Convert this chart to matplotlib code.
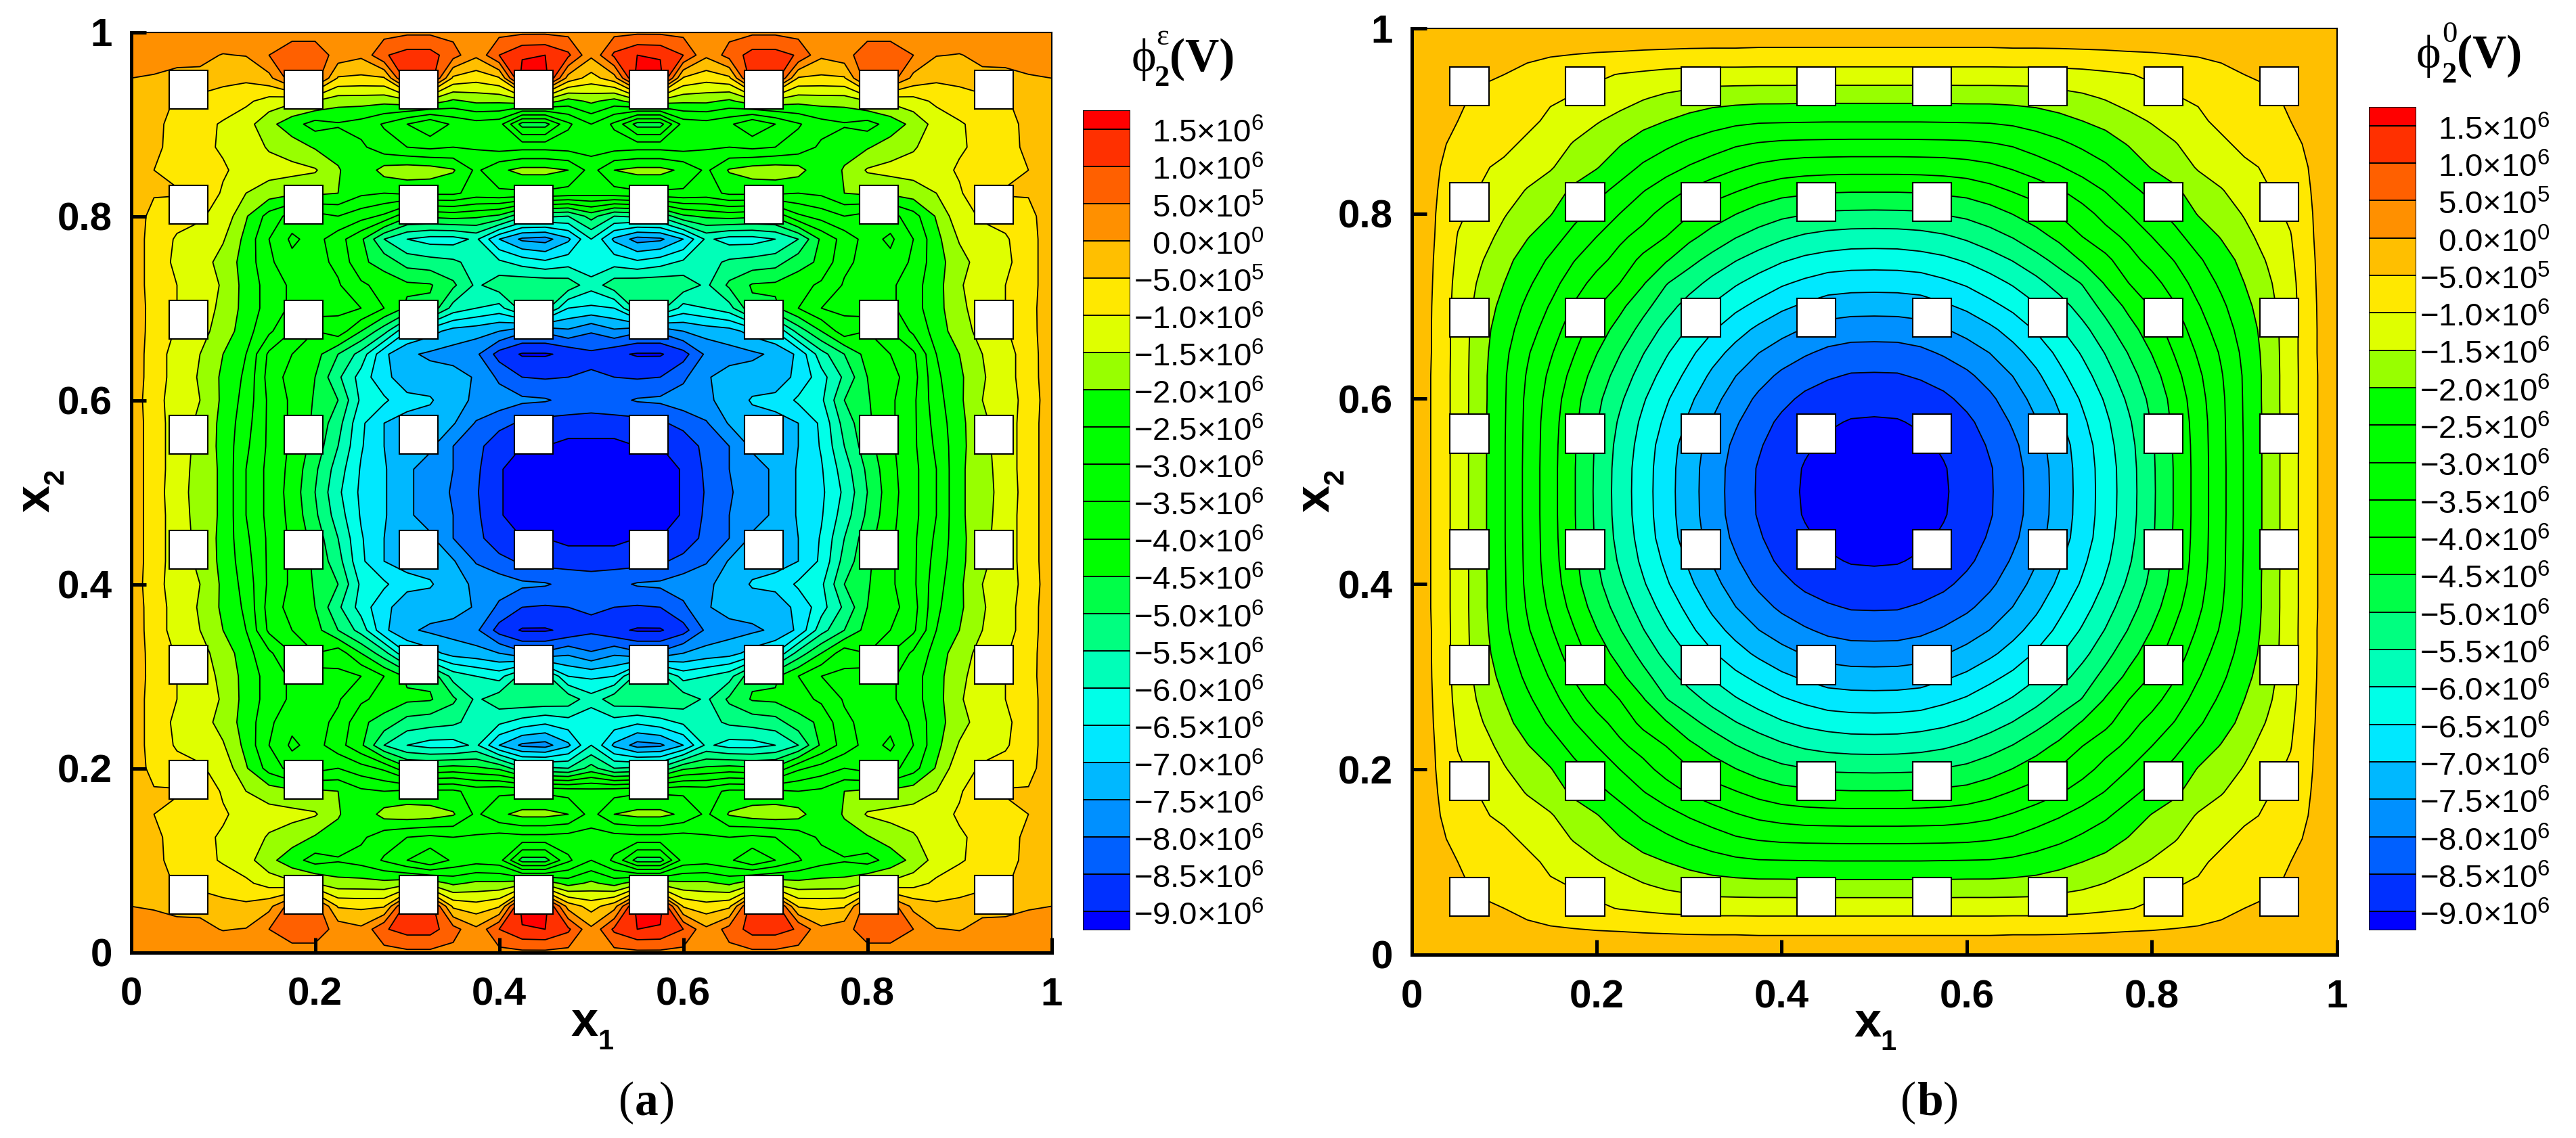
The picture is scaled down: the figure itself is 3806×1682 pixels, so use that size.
#!/usr/bin/env python

import numpy as np
import matplotlib
matplotlib.use('Agg')
import matplotlib.pyplot as plt
from matplotlib.patches import Rectangle

W = 3806.0
H = 1682.0

plt.rcParams['font.family'] = ['Liberation Sans', 'DejaVu Sans']
plt.rcParams['mathtext.fontset'] = 'custom'
plt.rcParams['mathtext.rm'] = 'Liberation Sans'
plt.rcParams['mathtext.bf'] = 'Liberation Sans:bold'
plt.rcParams['contour.negative_linestyle'] = 'solid'

# contour levels and the colour of each band, lowest band first
levels = [-9.0, -8.5, -8.0, -7.5, -7.0, -6.5, -6.0, -5.5, -5.0, -4.5, -4.0,
          -3.5, -3.0, -2.5, -2.0, -1.5, -1.0, -0.5, 0.0, 0.5, 1.0, 1.5]
band_colors = ['#0000ff', '#0030ff', '#0060ff', '#0090ff', '#00b8ff', '#00e8ff',
               '#00ffe8', '#00ffb8', '#00ff80', '#00ff48', '#00ff00', '#00ff00',
               '#00ff00', '#00ff00', '#00ff00', '#98ff00', '#dfff00', '#ffe800',
               '#ffbf00', '#ff9000', '#ff6000', '#ff3000', '#ff0000']
level_labels = ['\u22129.0$\\times10^{6}$', '\u22128.5$\\times10^{6}$', '\u22128.0$\\times10^{6}$',
                '\u22127.5$\\times10^{6}$', '\u22127.0$\\times10^{6}$', '\u22126.5$\\times10^{6}$',
                '\u22126.0$\\times10^{6}$', '\u22125.5$\\times10^{6}$', '\u22125.0$\\times10^{6}$',
                '\u22124.5$\\times10^{6}$', '\u22124.0$\\times10^{6}$', '\u22123.5$\\times10^{6}$',
                '\u22123.0$\\times10^{6}$', '\u22122.5$\\times10^{6}$', '\u22122.0$\\times10^{6}$',
                '\u22121.5$\\times10^{6}$', '\u22121.0$\\times10^{6}$', '\u22125.0$\\times10^{5}$',
                '0.0$\\times10^{0}$', '5.0$\\times10^{5}$', '1.0$\\times10^{6}$',
                '1.5$\\times10^{6}$']

tick_values = [0, 0.2, 0.4, 0.6, 0.8, 1]
tick_labels = ['0', '0.2', '0.4', '0.6', '0.8', '1']
square_centers = [0.0625, 0.1875, 0.3125, 0.4375, 0.5625, 0.6875, 0.8125, 0.9375]
square_size = 0.042

# node positions of the quarter tables, spacing 0.025
quarter_x = [0.0, 0.025, 0.05, 0.075, 0.1, 0.125, 0.15, 0.175, 0.2, 0.225, 0.25,
             0.275, 0.3, 0.325, 0.35, 0.375, 0.4, 0.425, 0.45, 0.475, 0.5]

# panel (a), values in 1e6 V
# one row per x2 from 1.0 down to 0.5, one column per x1 from 0 to 0.5
phi_a_quarter = [
    [.45, .4, .35, .3, .3, .3, .3, .3, .3, .3, .3, .3, .4, .4, .35, .3, .35, .4, .4, .35, .3],
    [.2, .15, .12, .1, -.02, .02, .5, .8, .8, .3, .1, .95, 1.2, 1.2, .7, .1, 1.0, 1.45, 1.5, 1.1, .1],
    [0, -.03, -.1, -.1, -.35, -.4, -.15, .8, .8, -.55, -.6, -.55, 1.3, 1.3, -.6, -.8, -.55, 1.7, 1.7, -.2, -.7],
    [-.1, -.3, -.55, -.7, -.75, -.9, -1.2, -1.4, -1.5, -1.8, -1.8, -1.85, -1.7, -1.7, -2.1, -1.9, -1.9, -1.7, -1.7, -2.2, -1.9],
    [-.1, -.35, -.7, -.85, -1.05, -1.3, -1.85, -2.3, -2.7, -2.55, -2.7, -3.05, -3.5, -3.95, -3.4, -3.2, -3.3, -4.7, -4.7, -3.6, -3.0],
    [-.1, -.35, -.75, -.9, -1.05, -1.25, -1.55, -1.75, -2.05, -2.2, -2.4, -2.8, -3.0, -3.1, -3.0, -3.05, -3.2, -3.15, -3.15, -3.2, -3.2],
    [-.1, -.5, -.65, -.8, -.95, -1.15, -1.3, -1.35, -1.45, -1.95, -2.4, -1.8, -1.7, -1.75, -1.95, -2.6, -2.1, -1.85, -1.85, -2.0, -2.7],
    [-.1, -.45, -.45, -.7, -1.05, -1.5, -1.75, -1.9, -1.9, -2.0, -2.4, -2.5, -2.4, -2.4, -2.4, -2.7, -2.6, -2.6, -2.6, -2.7, -2.8],
    [-.12, -.7, -.85, -.95, -1.15, -1.95, -2.7, -3.2, -3.2, -3.0, -3.3, -3.6, -4.4, -4.4, -4.3, -4.4, -4.6, -5.4, -5.4, -5.5, -4.8],
    [-.15, -.75, -1.05, -1.15, -1.45, -2.15, -3.0, -3.6, -3.3, -3.8, -4.4, -5.5, -6.0, -6.2, -6.2, -5.9, -7.0, -7.6, -7.7, -7.1, -6.0],
    [-.15, -.75, -1.1, -1.25, -1.7, -2.2, -2.9, -3.35, -3.35, -3.6, -4.4, -4.7, -5.2, -5.3, -5.4, -5.7, -5.9, -6.2, -6.4, -6.2, -6.35],
    [-.15, -.75, -1.0, -1.25, -1.55, -2.2, -2.7, -3.1, -3.1, -3.45, -3.9, -4.2, -4.4, -4.45, -4.9, -5.6, -5.2, -5.1, -5.1, -5.2, -5.8],
    [-.15, -.7, -1.0, -1.3, -1.6, -2.2, -2.7, -3.1, -3.2, -3.4, -3.5, -4.0, -4.6, -4.6, -5.7, -6.0, -6.2, -5.3, -5.3, -6.5, -6.6],
    [-.17, -.7, -1.05, -1.35, -1.7, -2.3, -2.9, -3.5, -4.0, -3.7, -4.5, -5.3, -6.5, -6.8, -7.2, -7.3, -7.5, -7.9, -7.9, -7.6, -7.95],
    [-.17, -.75, -1.2, -1.5, -2.0, -2.5, -3.6, -4.0, -4.3, -5.0, -5.7, -6.9, -7.4, -7.6, -7.7, -7.9, -8.7, -9.05, -9.05, -8.9, -8.6],
    [-.18, -.75, -1.2, -1.55, -2.1, -2.6, -3.7, -4.2, -4.5, -5.4, -6.2, -6.9, -7.2, -7.25, -7.3, -7.55, -8.1, -8.5, -8.55, -8.5, -8.45],
    [-.2, -.8, -1.25, -1.5, -2.1, -2.7, -3.6, -4.1, -4.55, -5.0, -6.1, -6.4, -6.9, -6.95, -7.3, -7.6, -7.75, -7.9, -7.95, -8.15, -8.25],
    [-.2, -.75, -1.25, -1.6, -2.15, -2.8, -3.6, -4.1, -4.6, -5.3, -6.4, -7.0, -7.1, -7.2, -7.45, -8.05, -8.3, -8.6, -8.7, -8.7, -8.7],
    [-.2, -.75, -1.25, -1.65, -2.15, -2.9, -3.6, -4.1, -4.7, -5.5, -6.45, -7.0, -7.3, -7.4, -8.0, -8.3, -8.9, -9.0, -9.0, -9.15, -9.15],
    [-.2, -.75, -1.25, -1.7, -2.1, -3.0, -3.65, -4.15, -4.9, -5.75, -6.55, -6.95, -7.4, -7.75, -8.0, -8.4, -8.95, -9.25, -9.35, -9.4, -9.4],
    [-.2, -.75, -1.3, -1.7, -2.1, -3.0, -3.65, -4.2, -5.0, -5.9, -6.6, -6.95, -7.4, -7.75, -8.05, -8.45, -8.95, -9.25, -9.35, -9.4, -9.4],
]

# panel (b), symmetric about the diagonal and the centre lines
# row i holds the values at distance i*0.025 from the centre along one axis,
# entry j the values at distance j*0.025 along the other one (j <= i)
phi_b_triangle = [
    [-9.34],
    [-9.3, -9.27],
    [-9.2, -9.19, -9.09],
    [-9.05, -9.03, -8.94, -8.8],
    [-8.83, -8.82, -8.76, -8.6, -8.37],
    [-8.55, -8.54, -8.44, -8.3, -8.1, -7.8],
    [-8.2, -8.19, -8.1, -7.94, -7.72, -7.49, -7.16],
    [-7.77, -7.76, -7.7, -7.53, -7.35, -7.1, -6.8, -6.45],
    [-7.3, -7.29, -7.23, -7.08, -6.9, -6.64, -6.38, -6.05, -5.72],
    [-6.8, -6.79, -6.75, -6.6, -6.43, -6.2, -5.94, -5.65, -5.28, -4.97],
    [-6.27, -6.26, -6.2, -6.1, -5.94, -5.72, -5.47, -5.16, -4.84, -4.45, -4.13],
    [-5.72, -5.71, -5.66, -5.57, -5.41, -5.2, -4.97, -4.68, -4.38, -4.0, -3.67, -3.4],
    [-5.1, -5.09, -5.07, -4.97, -4.87, -4.71, -4.48, -4.25, -3.96, -3.67, -3.34, -3.0, -2.67],
    [-4.45, -4.45, -4.43, -4.38, -4.32, -4.16, -3.96, -3.77, -3.54, -3.27, -2.97, -2.64, -2.35, -2.1],
    [-3.8, -3.8, -3.79, -3.77, -3.7, -3.6, -3.44, -3.24, -3.04, -2.8, -2.57, -2.28, -1.97, -1.72, -1.46],
    [-3.14, -3.14, -3.13, -3.12, -3.1, -3.04, -2.94, -2.77, -2.6, -2.41, -2.22, -1.97, -1.75, -1.53, -1.27, -1.08],
    [-2.47, -2.47, -2.47, -2.46, -2.45, -2.44, -2.38, -2.28, -2.16, -2.0, -1.85, -1.65, -1.46, -1.27, -1.08, -.9, -.72],
    [-1.85, -1.85, -1.85, -1.85, -1.84, -1.84, -1.82, -1.79, -1.69, -1.59, -1.46, -1.3, -1.14, -1.02, -.95, -.85, -.72, -.62],
    [-1.2, -1.2, -1.2, -1.2, -1.2, -1.2, -1.2, -1.2, -1.17, -1.14, -1.08, -1.02, -.93, -.84, -.75, -.62, -.5, -.4, -.25],
    [-.6, -.6, -.6, -.6, -.6, -.6, -.58, -.58, -.57, -.55, -.53, -.5, -.48, -.45, -.42, -.38, -.33, -.28, -.2, -.12],
    [-.02, -.02, -.02, -.02, -.02, -.02, -.02, -.02, -.02, -.02, -.02, -.02, -.02, -.02, -.02, -.02, -.02, -.02, -.02, -.02, -.02],
]


def axes_px(left, top, right, bottom):
	return [left / W, 1 - bottom / H, (right - left) / W, (bottom - top) / H]


def put(x, y, s, **kw):
	# place a text by pixel position, baseline left unless told otherwise
	kw.setdefault('ha', 'left')
	kw.setdefault('va', 'baseline')
	kw.setdefault('rotation_mode', 'anchor')
	plt.figtext(x / W, 1 - y / H, s, **kw)


def fullField(quarter):
	# the lower half and the right half mirror the table
	top = np.array(quarter)
	half = np.hstack([top, top[:, -2::-1]])
	return np.vstack([half, half[-2::-1]])


def triangleToQuarter(triangle):
	n = len(triangle)
	q = np.zeros((n, n))
	for i in range(n):
		for j in range(i + 1):
			q[i][j] = triangle[i][j]
			q[j][i] = triangle[i][j]
	return q[::-1, ::-1]


def plotField(ax, field):
	xs = np.array(quarter_x + [1 - v for v in quarter_x[-2::-1]])
	ys = xs[::-1]
	ax.contourf(xs, ys, field, levels=levels, colors=band_colors, extend='both')
	ax.contour(xs, ys, field, levels=levels, colors='k', linewidths=1.3)
	for cx in square_centers:
		for cy in square_centers:
			ax.add_patch(Rectangle((cx - square_size / 2, cy - square_size / 2),
			                       square_size, square_size, facecolor='white',
			                       edgecolor='k', linewidth=1.5, zorder=5))
	ax.set_xlim(0, 1)
	ax.set_ylim(0, 1)
	ax.set_xticks(tick_values)
	ax.set_xticklabels(tick_labels)
	ax.set_yticks(tick_values)
	ax.set_yticklabels(tick_labels)
	ax.tick_params(direction='in', length=16, width=3.6, labelsize=42, pad=20)
	ax.tick_params(axis='x', pad=26)
	for t in ax.get_xticklabels() + ax.get_yticklabels():
		t.set_fontweight('bold')
	ax.spines['left'].set_linewidth(3.6)
	ax.spines['bottom'].set_linewidth(3.6)
	ax.spines['top'].set_linewidth(1.5)
	ax.spines['right'].set_linewidth(1.5)


def plotBar(left, top, bottom):
	ax = plt.axes(axes_px(left, top, left + 70, bottom))
	edges = [levels[0] - 0.25] + levels + [levels[-1] + 0.25]
	for i in range(len(band_colors)):
		ax.barh(edges[i], 1, height=edges[i + 1] - edges[i], align='edge',
		        color=band_colors[i], edgecolor='k', linewidth=1.4)
	ax.set_xlim(0, 1)
	ax.set_ylim(edges[0], edges[-1])
	ax.axis('off')
	for lev, lab in zip(levels, level_labels):
		ax.text(3.82, lev - 0.07, lab, ha='right', va='center', fontsize=34,
		        transform=ax.get_yaxis_transform())


fig = plt.figure(figsize=(W / 100, H / 100), dpi=100)

axA = plt.axes(axes_px(193.5, 47.5, 1553.5, 1407.5))
plotField(axA, fullField(phi_a_quarter))
plotBar(1600, 163, 1375)

axB = plt.axes(axes_px(2085.6, 41.8, 3452.7, 1411))
plotField(axB, fullField(triangleToQuarter(phi_b_triangle)))
plotBar(3500, 158, 1375)

# axis names, drawn by hand to sit where the original has them
put(843, 1531, r'$\mathbf{x}$', fontsize=52)
put(883, 1551, r'$\mathbf{1}$', fontsize=30)
put(2739, 1532, r'$\mathbf{x}$', fontsize=52)
put(2778, 1552, r'$\mathbf{1}$', fontsize=30)
put(73, 758, r'$\mathbf{x}$', fontsize=52, rotation=90)
put(95, 718, r'$\mathbf{2}$', fontsize=30, rotation=90)
put(1964, 758, r'$\mathbf{x}$', fontsize=52, rotation=90)
put(1986, 718, r'$\mathbf{2}$', fontsize=30, rotation=90)

# colour bar titles
serif = ['Liberation Serif', 'DejaVu Serif']
put(1672, 105, '\u03d5', fontsize=50, family=serif)
put(1705, 127, '2', fontsize=32, family=serif, fontweight='bold')
put(1708, 66, '\u03b5', fontsize=32, family=serif)
put(1728, 105, '(V)', fontsize=50, family=serif, fontweight='bold')
put(3570, 100, '\u03d5', fontsize=50, family=serif)
put(3607, 122, '2', fontsize=32, family=serif, fontweight='bold')
put(3608, 62, '0', fontsize=32, family=serif)
put(3630, 100, '(V)', fontsize=50, family=serif, fontweight='bold')

# panel letters
put(914, 1647, '(', fontsize=50, family=serif)
put(938, 1647, 'a', fontsize=50, family=serif, fontweight='bold')
put(974, 1647, ')', fontsize=50, family=serif)
put(2808, 1647, '(', fontsize=50, family=serif)
put(2832, 1647, 'b', fontsize=50, family=serif, fontweight='bold')
put(2871, 1647, ')', fontsize=50, family=serif)

fig.savefig('out.png', dpi=100)
